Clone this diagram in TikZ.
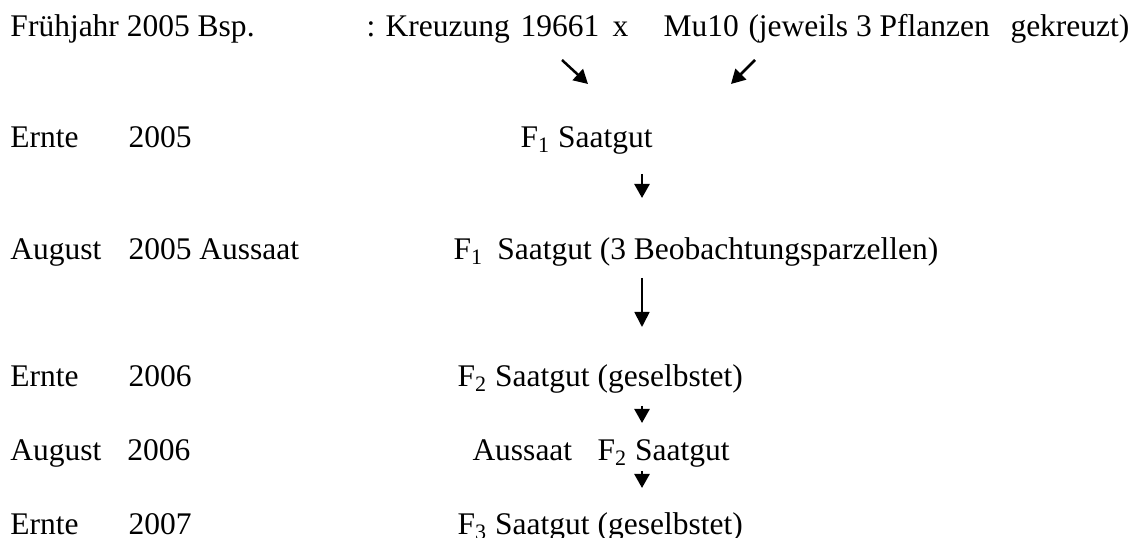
\documentclass[tikz,border=0pt]{standalone}
\usepackage{fontspec}
\setmainfont{Liberation Serif}
\usetikzlibrary{arrows.meta}
\begin{document}
\begin{tikzpicture}[x=0.4pt,y=-0.4pt,
  txt/.style={anchor=base west,inner sep=0pt,font=\fontsize{12.6}{15}\selectfont},
  arr/.style={-{Triangle[width=6pt,length=5.6pt]},line width=1pt},
  longarr/.style={-{Triangle[width=6pt,length=6pt]},line width=0.7pt}]
\useasboundingbox (0,0) rectangle (1136,538);
% left column
\node[txt] (l1) at (10,37) {Frühjahr 2005 Bsp.};
\node[txt] (l2a) at (10,148) {Ernte};
\node[txt] (l2b) at (128,148) {2005};
\node[txt] (l3a) at (10,260) {August};
\node[txt] (l3b) at (128,260) {2005 Aussaat};
\node[txt] (l4a) at (10,387) {Ernte};
\node[txt] (l4b) at (128,387) {2006};
\node[txt] (l5a) at (10,461) {August};
\node[txt] (l5b) at (127,461) {2006};
\node[txt] (l6a) at (10,535) {Ernte};
\node[txt] (l6b) at (128,535) {2007};
% first line right part
\node[txt] (kr) at (366,37) {: Kreuzung};
\node[txt] (p1) at (520,37) {19661};
\node[txt] (xx) at (612,37) {x};
\node[txt] (p2) at (663,37) {Mu10};
\node[txt] (je) at (748,37) {(jeweils 3 Pflanzen};
\node[txt] (gk) at (1010,37) {gekreuzt)};
% middle column
\node[txt] (f1) at (520,148) {F\textsubscript{1} Saatgut};
\node[txt] (f1b) at (453,260) {F\textsubscript{1}\hspace{0.45em}Saatgut (3 Beobachtungsparzellen)};
\node[txt] (f2) at (457,387) {F\textsubscript{2} Saatgut (geselbstet)};
\node[txt] (au) at (472,461) {Aussaat};
\node[txt] (f2b) at (597,461) {F\textsubscript{2} Saatgut};
\node[txt] (f3) at (457,535) {F\textsubscript{3} Saatgut (geselbstet)};
% arrow end points
\coordinate (d1s) at (562,60);
\coordinate (d1e) at (588,84);
\coordinate (d2s) at (755,60);
\coordinate (d2e) at (731,84);
\coordinate (s1s) at (642,174);
\coordinate (s1e) at (642,198);
\coordinate (ls) at (642,278);
\coordinate (le) at (642,327);
\coordinate (s2s) at (642,406);
\coordinate (s2e) at (642,423);
\coordinate (s3s) at (642,471);
\coordinate (s3e) at (642,488);
\draw[arr] (d1s) -- (d1e);
\draw[arr] (d2s) -- (d2e);
\draw[arr] (s1s) -- (s1e);
\draw[longarr] (ls) -- (le);
\draw[arr] (s2s) -- (s2e);
\draw[arr] (s3s) -- (s3e);
\end{tikzpicture}
\end{document}
